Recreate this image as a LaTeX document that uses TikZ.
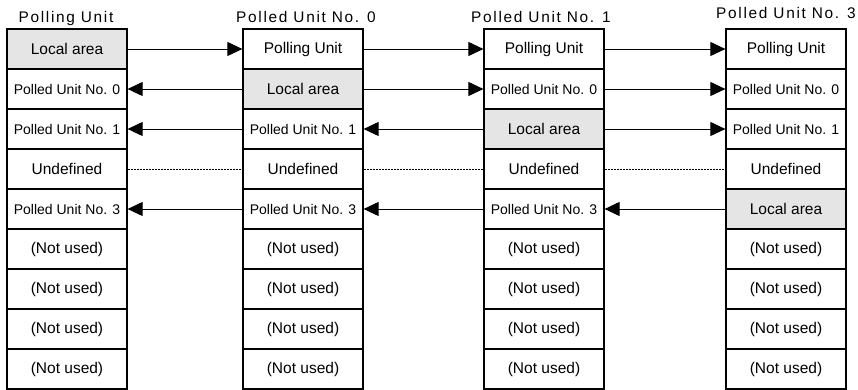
\documentclass[tikz,border=0pt]{standalone}
\usepackage{fontspec}
\setmainfont{Liberation Sans}
\usetikzlibrary{arrows.meta}
\tikzset{
  cell/.style={draw,line width=1.2pt,minimum width=120pt,minimum height=40pt,inner sep=0pt,font=\fontsize{15.5}{18}\selectfont},
  local/.style={cell,fill=black!10},
  polled/.style={cell,font=\fontsize{14}{16}\selectfont},
  title/.style={anchor=base,inner sep=0pt,font=\fontsize{15.4}{18}\selectfont\addfontfeature{LetterSpace=11}},
  arr/.style={line width=0.9pt,-{Triangle[length=15pt,width=14pt]}},
  undef/.style={line width=0.6pt,dash pattern=on 2pt off 1pt}
}
\begin{document}
\begin{tikzpicture}[x=1pt,y=-1pt]
\path (0,0) rectangle (858,390);
% column titles
\node[title] (t1) at (66,23) {Polling Unit};
\node[title] (t2) at (306,23) {Polled Unit No. 0};
\node[title] (t3) at (541,23) {Polled Unit No. 1};
\node[title] (t4) at (786,19) {Polled Unit No. 3};
% Polling Unit
\node[local] (a1) at (67,49) {Local area};
\node[polled] (a2) at (67,89) {Polled Unit No. 0};
\node[polled] (a3) at (67,129) {Polled Unit No. 1};
\node[cell] (a4) at (67,169) {Undefined};
\node[polled] (a5) at (67,209) {Polled Unit No. 3};
\node[cell] (a6) at (67,249) {(Not used)};
\node[cell] (a7) at (67,289) {(Not used)};
\node[cell] (a8) at (67,329) {(Not used)};
\node[cell] (a9) at (67,369) {(Not used)};
% Polled Unit No. 0
\node[cell] (b1) at (303,49) {Polling Unit};
\node[local] (b2) at (303,89) {Local area};
\node[polled] (b3) at (303,129) {Polled Unit No. 1};
\node[cell] (b4) at (303,169) {Undefined};
\node[polled] (b5) at (303,209) {Polled Unit No. 3};
\node[cell] (b6) at (303,249) {(Not used)};
\node[cell] (b7) at (303,289) {(Not used)};
\node[cell] (b8) at (303,329) {(Not used)};
\node[cell] (b9) at (303,369) {(Not used)};
% Polled Unit No. 1
\node[cell] (c1) at (544,49) {Polling Unit};
\node[polled] (c2) at (544,89) {Polled Unit No. 0};
\node[local] (c3) at (544,129) {Local area};
\node[cell] (c4) at (544,169) {Undefined};
\node[polled] (c5) at (544,209) {Polled Unit No. 3};
\node[cell] (c6) at (544,249) {(Not used)};
\node[cell] (c7) at (544,289) {(Not used)};
\node[cell] (c8) at (544,329) {(Not used)};
\node[cell] (c9) at (544,369) {(Not used)};
% Polled Unit No. 3
\node[cell] (d1) at (786,49) {Polling Unit};
\node[polled] (d2) at (786,89) {Polled Unit No. 0};
\node[polled] (d3) at (786,129) {Polled Unit No. 1};
\node[cell] (d4) at (786,169) {Undefined};
\node[local] (d5) at (786,209) {Local area};
\node[cell] (d6) at (786,249) {(Not used)};
\node[cell] (d7) at (786,289) {(Not used)};
\node[cell] (d8) at (786,329) {(Not used)};
\node[cell] (d9) at (786,369) {(Not used)};
% links
\draw[arr] (a1.east) -- (b1.west);
\draw[arr] (b2.west) -- (a2.east);
\draw[arr] (b3.west) -- (a3.east);
\draw[undef] (a4.east) -- (b4.west);
\draw[arr] (b5.west) -- (a5.east);
\draw[arr] (b1.east) -- (c1.west);
\draw[arr] (b2.east) -- (c2.west);
\draw[arr] (c3.west) -- (b3.east);
\draw[undef] (b4.east) -- (c4.west);
\draw[arr] (c5.west) -- (b5.east);
\draw[arr] (c1.east) -- (d1.west);
\draw[arr] (c2.east) -- (d2.west);
\draw[arr] (c3.east) -- (d3.west);
\draw[undef] (c4.east) -- (d4.west);
\draw[arr] (d5.west) -- (c5.east);
\end{tikzpicture}
\end{document}
